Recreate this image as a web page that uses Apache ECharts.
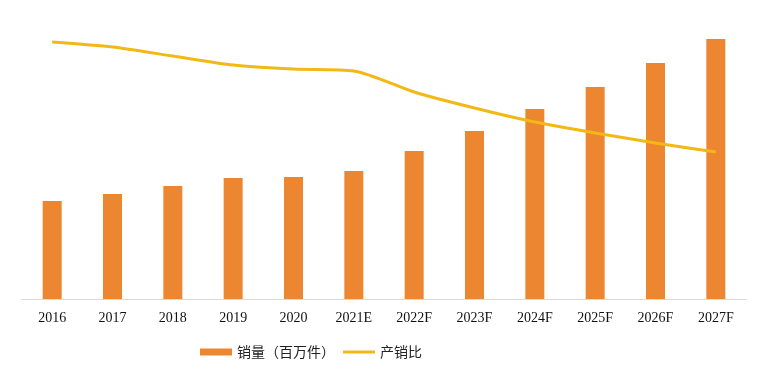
<!DOCTYPE html>
<html>
<head>
<meta charset="utf-8">
<script src="https://cdn.jsdelivr.net/npm/echarts@6/dist/echarts.min.js"></script>
<style>html,body{margin:0;padding:0;background:#fff;}#c{width:770px;height:373px;}</style>
</head>
<body>
<div id="c"></div>
<script>
const categories = ['2016','2017','2018','2019','2020','2021E','2022F','2023F','2024F','2025F','2026F','2027F'];
const salesValues = [98, 105, 113, 121, 122, 128, 148, 168, 190, 212, 236, 260];
const ratioValues = [257, 252, 243, 234, 230, 228, 207, 191, 177, 166, 156, 147];
const seriesNames = ['销量（百万件）', '产销比'];

const chart = echarts.init(document.getElementById('c'));
chart.setOption({
  animation: false,
  backgroundColor: '#fff',
  grid: { left: 22, right: 24, top: 19, bottom: 74 },
  legend: {
    data: [
      { name: seriesNames[0], icon: 'rect' },
      { name: seriesNames[1], icon: 'path://M0,0L0.01,0M0,2H32V5H0ZM0,7L0.01,7' }
    ],
    left: 195,
    top: 340,
    itemWidth: 32,
    itemHeight: 7,
    itemGap: 8,
    symbolKeepAspect: false,
    textStyle: { fontFamily: '"Noto Sans CJK SC", sans-serif', fontSize: 14, color: '#222' }
  },
  xAxis: {
    type: 'category',
    data: categories,
    axisLine: { lineStyle: { color: '#D9D9D9', width: 1 } },
    axisTick: { show: false },
    axisLabel: { fontFamily: '"Liberation Serif", "Times New Roman", serif', fontSize: 14, color: '#111', margin: 12, interval: 0 }
  },
  yAxis: [
    { type: 'value', min: 0, max: 280, show: false, splitLine: { show: false } },
    { type: 'value', min: 0, max: 280, show: false, splitLine: { show: false } }
  ],
  series: [
    {
      name: seriesNames[0],
      type: 'bar',
      data: salesValues,
      barWidth: 19,
      itemStyle: { color: '#ED8631' }
    },
    {
      name: seriesNames[1],
      type: 'line',
      yAxisIndex: 1,
      data: ratioValues,
      smooth: 0.25,
      symbol: 'none',
      lineStyle: { color: '#F2B914', width: 3 },
      itemStyle: { color: '#F2B914' }
    }
  ]
});
</script>
</body>
</html>
